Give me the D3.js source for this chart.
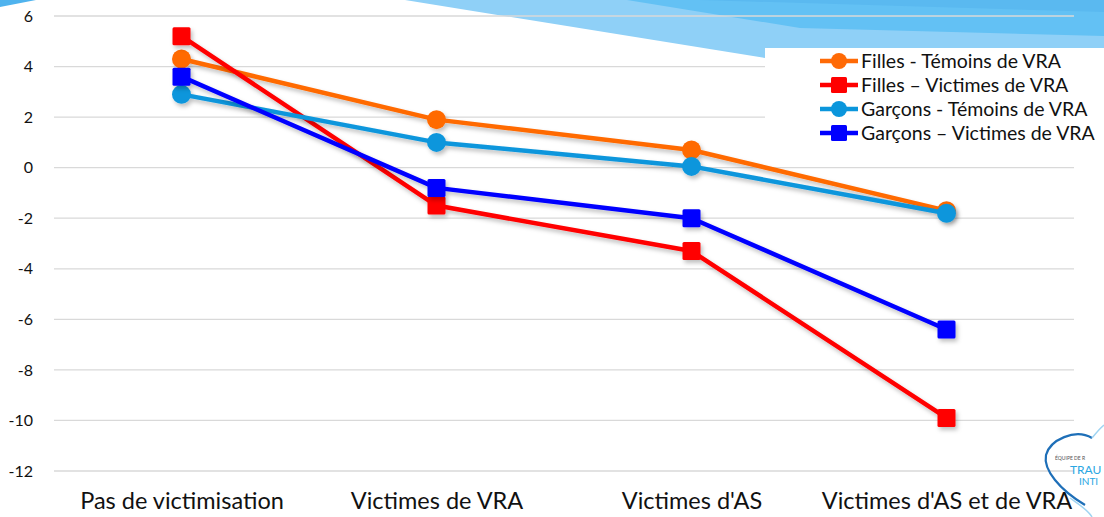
<!DOCTYPE html>
<html>
<head>
<meta charset="utf-8">
<script src="https://cdn.jsdelivr.net/npm/d3@7"></script>
<style>
  html, body { margin: 0; padding: 0; background: #fff; }
  svg { display: block; font-family: Lato, "Open Sans", sans-serif; }
</style>
</head>
<body>
<svg id="chart" width="1104" height="517"></svg>
<script>
const categories = ["Pas de victimisation", "Victimes de VRA", "Victimes d'AS", "Victimes d'AS et de VRA"];
const seriesNames = ["Filles - Témoins de VRA", "Filles – Victimes de VRA", "Garçons - Témoins de VRA", "Garçons – Victimes de VRA"];
const fillesTemoins = [4.3, 1.9, 0.7, -1.7];
const fillesVictimes = [5.2, -1.5, -3.3, -9.9];
const garconsTemoins = [2.9, 1.0, 0.05, -1.8];
const garconsVictimes = [3.6, -0.8, -2.0, -6.4];
const yTicks = [6, 4, 2, 0, -2, -4, -6, -8, -10, -12];

const series = [
  { name: seriesNames[0], values: fillesTemoins, color: "#FF6A06", shape: "circle" },
  { name: seriesNames[1], values: fillesVictimes, color: "#FF0000", shape: "square" },
  { name: seriesNames[2], values: garconsTemoins, color: "#0B96DC", shape: "circle" },
  { name: seriesNames[3], values: garconsVictimes, color: "#0000FF", shape: "square" }
];

const svg = d3.select("#chart");

// decorative background swoosh
const deco = svg.append("g");
deco.append("path").attr("d", "M405,0 L1104,0 L1104,62 L765,58 Z").attr("fill", "#8FD0F7");
deco.append("path").attr("d", "M627,0 L1104,0 L1104,36 L800,28 Z").attr("fill", "#63C1F4");
deco.append("path").attr("d", "M700,0 L1104,0 L1104,12 Z").attr("fill", "#5AB9F0");
deco.append("path").attr("d", "M0,0 L36,0 L0,7 Z").attr("fill", "#4FB3EE");

const x = d3.scalePoint().domain(categories).range([54, 1074]).padding(0.5);
const y = d3.scaleLinear().domain([-12, 6]).range([471, 16]);

// gridlines
svg.append("g").selectAll("line").data(yTicks).join("line")
  .attr("x1", 54).attr("x2", 1074)
  .attr("y1", d => y(d)).attr("y2", d => y(d))
  .attr("stroke", "#d9d9d9").attr("stroke-width", 1.3);

// y axis labels
const yAxis = d3.axisLeft(y).tickValues(yTicks).tickSize(0).tickPadding(0).tickFormat(d => String(d));
const ya = svg.append("g").attr("transform", "translate(33,0)").call(yAxis);
ya.select(".domain").remove();
ya.selectAll("text").attr("font-size", 16).attr("fill", "#111").attr("font-family", "Lato, 'Open Sans', sans-serif");

// x axis labels
const xAxis = d3.axisBottom(x).tickSize(0).tickPadding(0);
const xa = svg.append("g").attr("transform", "translate(0,492)").call(xAxis);
xa.select(".domain").remove();
xa.selectAll("text").attr("font-size", 23.5).attr("fill", "#111").attr("font-family", "Lato, 'Open Sans', sans-serif");

// shadow filter
const defs = svg.append("defs");
const f = defs.append("filter").attr("id", "sh").attr("x", "-20%").attr("y", "-20%").attr("width", "140%").attr("height", "140%");
f.append("feDropShadow").attr("dx", 2).attr("dy", 3).attr("stdDeviation", 2).attr("flood-color", "#000").attr("flood-opacity", 0.25);

const line = d3.line().x((d, i) => x(categories[i])).y(d => y(d));

series.forEach(s => {
  const g = svg.append("g").attr("filter", "url(#sh)");
  g.append("path").datum(s.values).attr("d", line)
    .attr("fill", "none").attr("stroke", s.color).attr("stroke-width", 4.5).attr("stroke-linejoin", "round");
  if (s.shape === "circle") {
    g.selectAll("circle").data(s.values).join("circle")
      .attr("cx", (d, i) => x(categories[i])).attr("cy", d => y(d)).attr("r", 9.5)
      .attr("fill", s.color);
  } else {
    g.selectAll("rect").data(s.values).join("rect")
      .attr("x", (d, i) => x(categories[i]) - 9).attr("y", d => y(d) - 9)
      .attr("width", 18).attr("height", 18).attr("rx", 1.5)
      .attr("fill", s.color);
  }
});

// legend
const lg = svg.append("g");
lg.append("rect").attr("x", 765).attr("y", 48).attr("width", 339).attr("height", 100).attr("fill", "#fff");
series.forEach((s, i) => {
  const cy = 61 + i * 24;
  const row = lg.append("g");
  row.append("line").attr("x1", 820).attr("x2", 858).attr("y1", cy).attr("y2", cy)
    .attr("stroke", s.color).attr("stroke-width", 4.5);
  if (s.shape === "circle") {
    row.append("circle").attr("cx", 839).attr("cy", cy).attr("r", 8).attr("fill", s.color);
  } else {
    row.append("rect").attr("x", 831).attr("y", cy - 8).attr("width", 16).attr("height", 16).attr("rx", 1.5).attr("fill", s.color);
  }
  row.append("text").attr("x", 861).attr("y", cy).attr("dy", "0.35em")
    .attr("font-size", 19.5).attr("fill", "#111").text(s.name);
});

// logo (approximation)
const logo = svg.append("g");
logo.append("path").attr("d", "M1092,438 C1075,428 1050,440 1046,455 C1043,470 1060,490 1085,505")
  .attr("fill", "none").attr("stroke", "#1E6FB8").attr("stroke-width", 2.2);
logo.append("path").attr("d", "M1092,438 C1100,428 1104,425 1104,425 M1070,498 C1080,505 1088,510 1092,517")
  .attr("fill", "none").attr("stroke", "#9FD4F2").attr("stroke-width", 1.5);
logo.append("text").attr("x", 1055).attr("y", 460).attr("font-size", 5).attr("fill", "#555").text("ÉQUIPE DE R");
logo.append("text").attr("x", 1070).attr("y", 474).attr("font-size", 12).attr("fill", "#2AA7E3").text("TRAU");
logo.append("text").attr("x", 1079).attr("y", 485).attr("font-size", 10).attr("fill", "#2AA7E3").text("INTI");
</script>
</body>
</html>
